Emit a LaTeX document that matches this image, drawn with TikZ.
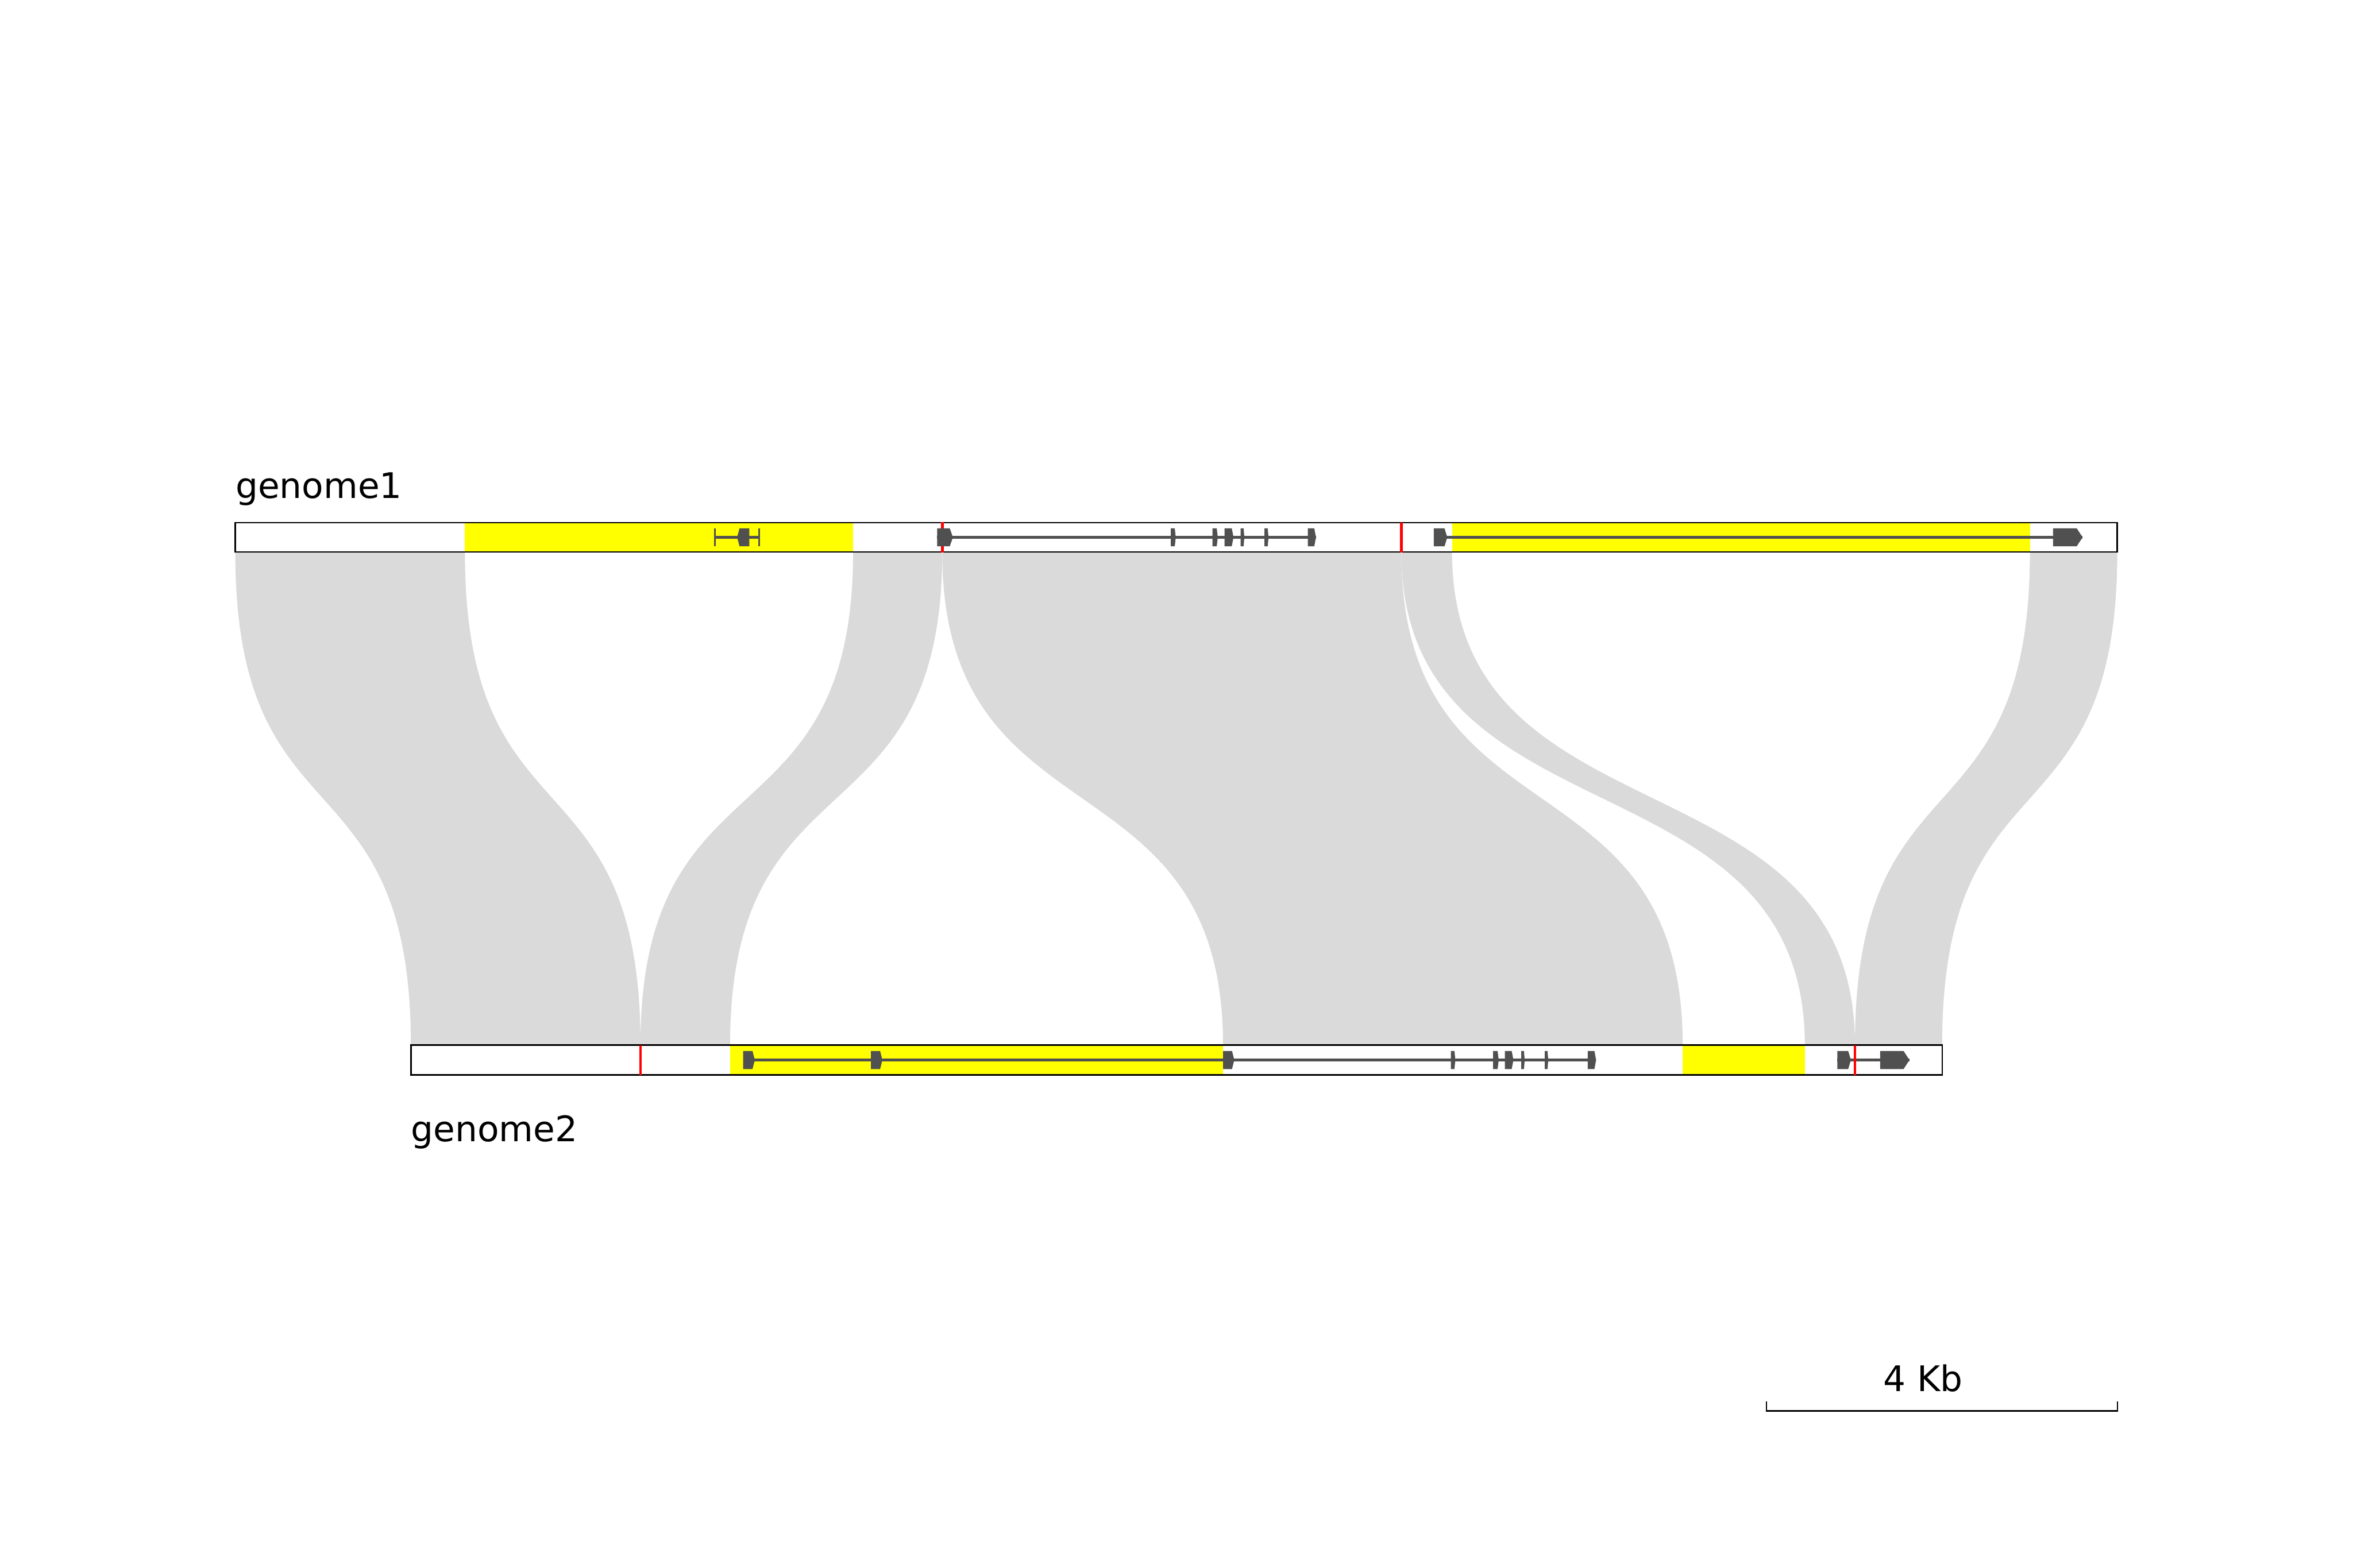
\documentclass[tikz,border=0pt]{standalone}
\usepackage{fontspec}
\setmainfont{DejaVu Sans}
\definecolor{ribbongray}{RGB}{218,218,218}
\definecolor{exongray}{RGB}{80,80,80}
\definecolor{hlyellow}{RGB}{255,255,0}
\definecolor{bpred}{RGB}{255,0,0}
\tikzset{
  ribbon/.style={fill=ribbongray, draw=none},
  trackbox/.style={draw=black, line width=1pt, fill=white},
  hl/.style={fill=hlyellow, draw=none},
  bpline/.style={draw=bpred, line width=1.8pt},
  intron/.style={draw=exongray, line width=2.1pt},
  exon/.style={fill=exongray, draw=none},
  lbl/.style={inner sep=0pt, font=\fontsize{23.5}{28}\selectfont},
  scalebar/.style={draw=black, line width=0.9pt}
}
% ribbon: top x1, top x2, bottom x1, bottom x2
\newcommand\myribbon[4]{%
  \fill[ribbon] (#1,367.9) .. controls (#1,565.1) and (#3,499.4) .. (#3,696.6)
    -- (#4,696.6) .. controls (#4,499.4) and (#2,565.1) .. (#2,367.9) -- cycle;}
% exon pointing right: x0, x1, y centre
\newcommand\exonR[3]{%
  \fill[exon] (#1,#3-6) -- ({#2-0.2*(#2-#1)},#3-6) -- (#2,#3)
    -- ({#2-0.2*(#2-#1)},#3+6) -- (#1,#3+6) -- cycle;}
% exon pointing left
\newcommand\exonL[3]{%
  \fill[exon] (#2,#3-6) -- ({#1+0.2*(#2-#1)},#3-6) -- (#1,#3)
    -- ({#1+0.2*(#2-#1)},#3+6) -- (#2,#3+6) -- cycle;}
\newcommand\exonT[2]{%
  \fill[exon] (#1-0.6,#2-6) rectangle (#1+0.6,#2+6);}
\begin{document}
\begin{tikzpicture}[x=1pt,y=-1pt]
\fill[white] (0,0) rectangle (1568,1045);
\useasboundingbox (0,0) rectangle (1568,1045);

% ribbons
\myribbon{156.8}{309.8}{273.8}{426.8}
\myribbon{568.5}{627.9}{426.8}{486.5}
\myribbon{627.9}{933.8}{815.0}{1121.3}
\myribbon{933.8}{967.6}{1202.7}{1236.1}
\myribbon{1352.7}{1410.9}{1236.1}{1294.2}

% tracks
\draw[trackbox] (156.8,348.3) rectangle (1410.9,367.9);
\draw[trackbox] (273.8,696.6) rectangle (1294.2,716.5);

% highlighted regions
\fill[hl] (309.8,348.8) rectangle (568.5,367.4);
\fill[hl] (967.6,348.8) rectangle (1352.7,367.4);
\fill[hl] (486.5,697.1) rectangle (815.0,716.0);
\fill[hl] (1121.3,697.1) rectangle (1202.7,716.0);

% introns
\draw[intron] (475.8,358.1) -- (506.3,358.1);
\draw[intron] (624.5,358.1) -- (876.9,358.1);
\draw[intron] (955.4,358.1) -- (1387.8,358.1);
\draw[intron] (495.2,706.5) -- (1063.6,706.5);
\draw[intron] (1224.4,706.5) -- (1272.4,706.5);

% break points
\draw[bpline] (627.9,347.8) -- (627.9,368.2);
\draw[bpline] (933.8,348.3) -- (933.8,368.2);
\draw[bpline] (426.8,696.6) -- (426.8,716.5);
\draw[bpline] (1236.1,696.6) -- (1236.1,716.5);

% genome1 exons
\exonT{476.3}{358.1}
\exonL{491.2}{499.3}{358.1}
\exonT{506.0}{358.1}
\exonR{624.5}{635.0}{358.1}
\exonR{780.2}{783.5}{358.1}
\exonR{808.0}{811.5}{358.1}
\exonR{816.0}{822.0}{358.1}
\exonR{826.7}{829.2}{358.1}
\exonR{842.6}{845.3}{358.1}
\exonR{871.5}{876.9}{358.1}
\exonR{955.4}{964.4}{358.1}
\exonR{1368.1}{1387.8}{358.1}

% genome2 exons
\exonR{495.2}{503.0}{706.5}
\exonR{580.4}{588.0}{706.5}
\exonR{815.0}{822.5}{706.5}
\exonR{966.8}{969.8}{706.5}
\exonR{995.0}{998.7}{706.5}
\exonR{1002.8}{1008.5}{706.5}
\exonR{1013.7}{1016.0}{706.5}
\exonR{1029.4}{1031.7}{706.5}
\exonR{1058.0}{1063.6}{706.5}
\exonR{1224.4}{1233.4}{706.5}
\exonR{1252.9}{1272.4}{706.5}

% labels
\node[lbl, anchor=base west] (g1) at (156.8,332) {genome1};
\node[lbl, anchor=base west] (g2) at (273.8,761) {genome2};

% scale bar
\coordinate (sbl) at (1177.1,940.4);
\coordinate (sbr) at (1411.1,940.4);
\draw[scalebar] ([yshift=6.2pt]sbl) -- (sbl) -- (sbr) -- ([yshift=6.2pt]sbr);
\node[lbl, anchor=base west] (sbtext) at (1255.0,927.5) {4 Kb};
\end{tikzpicture}
\end{document}
